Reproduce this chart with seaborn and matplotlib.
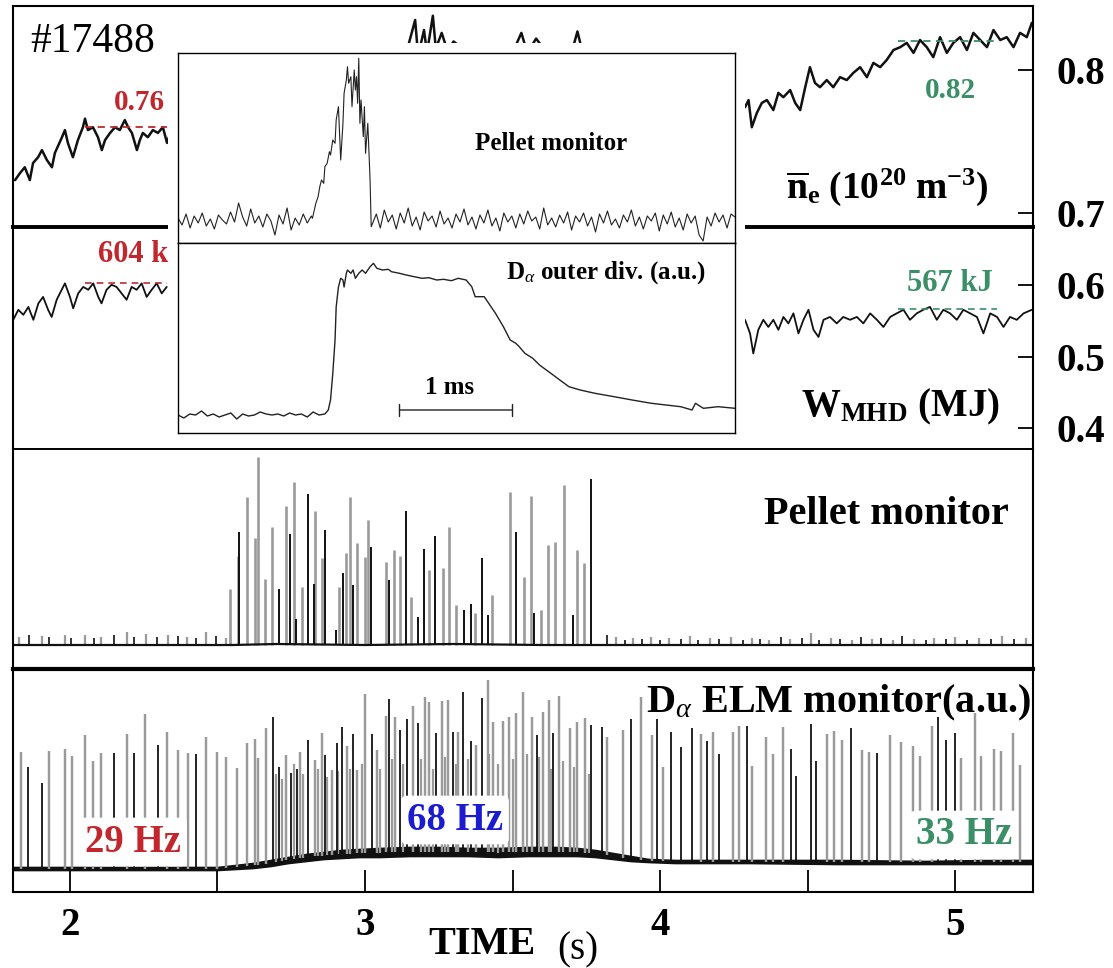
import matplotlib
matplotlib.use("Agg")
import matplotlib.pyplot as plt
from matplotlib.patches import Rectangle
import numpy as np
import pandas as pd
import seaborn as sns

W_PX, H_PX = 1113, 968

# --- line-averaged density (1e20 m^-3), visible parts + hidden middle ---
NE_T = [1.814, 1.831, 1.847, 1.864, 1.875, 1.892, 1.905, 1.922, 1.939, 1.949, 1.973, 1.983,
        1.993, 2.010, 2.027, 2.044, 2.051, 2.061, 2.078, 2.095, 2.108, 2.119, 2.136, 2.153,
        2.169, 2.186, 2.197, 2.210, 2.227, 2.237, 2.247, 2.264, 2.281, 2.298, 2.315, 2.329,
        2.35, 2.40, 2.45, 2.50, 2.55, 2.60, 2.65, 2.70, 2.75, 2.80, 2.85, 2.90, 2.95, 3.00,
        3.05, 3.10, 3.14, 3.17, 3.18, 3.20, 3.21, 3.23, 3.24, 3.26, 3.28, 3.30, 3.35, 3.40,
        3.45, 3.50, 3.53, 3.55, 3.58, 3.62, 3.66, 3.70, 3.72, 3.74, 3.80, 3.90, 4.00, 4.10,
        4.20, 4.288, 4.300, 4.311, 4.328, 4.345, 4.362, 4.384, 4.401, 4.418, 4.441, 4.458,
        4.475, 4.492, 4.508, 4.525, 4.542, 4.565, 4.587, 4.610, 4.633, 4.655, 4.678, 4.701,
        4.723, 4.746, 4.768, 4.791, 4.814, 4.836, 4.859, 4.881, 4.904, 4.926, 4.949, 4.972,
        4.994, 5.017, 5.040, 5.062, 5.085, 5.108, 5.130, 5.153, 5.175, 5.198, 5.220, 5.243,
        5.260]
NE_V = [0.723, 0.728, 0.732, 0.723, 0.735, 0.739, 0.744, 0.737, 0.732, 0.742, 0.753, 0.758,
        0.749, 0.739, 0.751, 0.760, 0.766, 0.758, 0.760, 0.753, 0.744, 0.751, 0.756, 0.760,
        0.758, 0.765, 0.760, 0.756, 0.744, 0.751, 0.756, 0.753, 0.758, 0.756, 0.760, 0.749,
        0.762, 0.758, 0.766, 0.770, 0.768, 0.776, 0.780, 0.785, 0.790, 0.792, 0.795, 0.798,
        0.800, 0.803, 0.805, 0.808, 0.812, 0.835, 0.810, 0.828, 0.812, 0.838, 0.815, 0.826,
        0.813, 0.820, 0.812, 0.810, 0.815, 0.812, 0.826, 0.812, 0.822, 0.811, 0.815, 0.812,
        0.827, 0.810, 0.800, 0.790, 0.785, 0.780, 0.776, 0.774, 0.779, 0.760, 0.770, 0.777,
        0.779, 0.772, 0.784, 0.781, 0.786, 0.777, 0.772, 0.788, 0.802, 0.791, 0.788, 0.793,
        0.788, 0.795, 0.793, 0.798, 0.802, 0.795, 0.805, 0.802, 0.807, 0.814, 0.816, 0.819,
        0.812, 0.821, 0.816, 0.809, 0.823, 0.812, 0.819, 0.823, 0.814, 0.826, 0.821, 0.816,
        0.828, 0.821, 0.823, 0.816, 0.826, 0.823, 0.833]

# --- stored energy (MJ), left and right visible segments ---
W_LEFT_T = [1.808, 1.825, 1.842, 1.859, 1.876, 1.893, 1.909, 1.926, 1.938, 1.955, 1.972,
            1.983, 2.000, 2.011, 2.028, 2.045, 2.062, 2.079, 2.096, 2.107, 2.124, 2.141,
            2.158, 2.175, 2.192, 2.209, 2.226, 2.243, 2.260, 2.277, 2.294, 2.311, 2.328]
W_LEFT_V = [0.552, 0.566, 0.559, 0.570, 0.552, 0.575, 0.584, 0.566, 0.556, 0.580, 0.594,
            0.603, 0.584, 0.568, 0.589, 0.598, 0.594, 0.603, 0.584, 0.575, 0.594, 0.601,
            0.598, 0.589, 0.580, 0.598, 0.594, 0.603, 0.584, 0.594, 0.603, 0.589, 0.598]
W_RIGHT_T = [4.288, 4.305, 4.316, 4.333, 4.350, 4.367, 4.384, 4.401, 4.418, 4.435, 4.452,
             4.469, 4.486, 4.503, 4.520, 4.537, 4.554, 4.576, 4.599, 4.621, 4.644, 4.667,
             4.689, 4.712, 4.735, 4.757, 4.780, 4.802, 4.825, 4.847, 4.870, 4.892, 4.915,
             4.938, 4.960, 4.983, 5.006, 5.028, 5.051, 5.074, 5.096, 5.119, 5.142, 5.164,
             5.186, 5.209, 5.232, 5.260]
W_RIGHT_V = [0.552, 0.533, 0.505, 0.538, 0.552, 0.542, 0.552, 0.538, 0.556, 0.547, 0.561,
             0.533, 0.552, 0.566, 0.538, 0.528, 0.552, 0.556, 0.547, 0.556, 0.552, 0.556,
             0.547, 0.561, 0.552, 0.542, 0.556, 0.561, 0.566, 0.552, 0.561, 0.566, 0.570,
             0.552, 0.566, 0.561, 0.552, 0.566, 0.561, 0.556, 0.533, 0.561, 0.556, 0.542,
             0.556, 0.552, 0.561, 0.566]

# reference levels (before / after pellets)
NE_LEVELS = [0.76, 0.82]
W_LEVELS = [0.604, 0.567]
LEVEL_SPANS = [(2.051, 2.33), (4.807, 5.142)]

# --- pellet monitor spikes (a.u.) ---
PELLET_T = [2.541, 2.568, 2.574, 2.600, 2.628, 2.637, 2.661, 2.686, 2.709, 2.731, 2.746,
            2.758, 2.767, 2.786, 2.806, 2.828, 2.831, 2.855, 2.864, 2.901, 2.913, 2.925,
            2.937, 2.948, 2.961, 2.973, 3.000, 3.010, 3.022, 3.070, 3.082, 3.097, 3.119,
            3.140, 3.155, 3.179, 3.201, 3.216, 3.237, 3.264, 3.286, 3.310, 3.334, 3.358,
            3.373, 3.395, 3.417, 3.431, 3.492, 3.513, 3.538, 3.562, 3.573, 3.597, 3.621,
            3.645, 3.676, 3.706, 3.718, 3.743, 3.767]
PELLET_V = [0.56, 0.89, 1.13, 1.48, 1.07, 1.88, 0.66, 1.18, 0.56, 1.39, 1.11,
            1.63, 0.26, 0.58, 1.51, 0.61, 1.34, 0.87, 1.15, 0.15, 0.58, 0.72,
            0.92, 1.48, 0.60, 1.02, 0.88, 1.25, 0.98, 0.83, 0.65, 0.95, 0.89,
            1.34, 0.48, 0.28, 0.96, 0.75, 1.09, 0.77, 1.18, 0.40, 0.35, 0.41,
            0.32, 0.87, 0.30, 0.50, 1.53, 1.13, 0.68, 1.49, 0.32, 0.35, 1.00,
            1.03, 1.60, 0.30, 0.95, 0.82, 1.66]
PELLET_KIND = list("ggkgggggkgk" "gkgkkggkkgk" "ggkgggkgkgg" "kgkkgkgggkk" "gkkggkggkgg"
                   "ggkggk")
PELLET_SMALL_T = [1.829, 1.860, 1.905, 1.930, 1.983, 2.002, 2.051, 2.080, 2.104, 2.150, 2.192,
                  2.217, 2.257, 2.295, 2.332, 2.366, 2.398, 2.426, 2.462, 2.496, 2.528,
                  3.82, 3.85, 3.88, 3.91, 3.94, 3.97, 4.00, 4.03, 4.07, 4.10, 4.13, 4.17,
                  4.20, 4.24, 4.28, 4.31, 4.34, 4.37, 4.41, 4.44, 4.48, 4.51, 4.54, 4.58,
                  4.61, 4.65, 4.68, 4.72, 4.75, 4.79, 4.82, 4.86, 4.90, 4.93, 4.97, 5.00,
                  5.04, 5.08, 5.12, 5.16, 5.20, 5.24]
PELLET_SMALL_V = [0.08, 0.10, 0.09, 0.08, 0.10, 0.07, 0.10, 0.07, 0.08, 0.10, 0.13,
                  0.08, 0.11, 0.08, 0.10, 0.09, 0.08, 0.07, 0.13, 0.09, 0.07,
                  0.10, 0.08, 0.05, 0.07, 0.06, 0.08, 0.05, 0.07, 0.06, 0.09, 0.05, 0.07,
                  0.06, 0.08, 0.05, 0.07, 0.06, 0.05, 0.08, 0.06, 0.07, 0.12, 0.05, 0.07,
                  0.06, 0.05, 0.08, 0.06, 0.07, 0.05, 0.09, 0.06, 0.05, 0.07, 0.06, 0.08,
                  0.05, 0.07, 0.06, 0.09, 0.06, 0.07]
PELLET_BASE_T = [1.807, 2.55, 2.70, 3.00, 3.30, 3.60, 3.78, 5.264]
PELLET_BASE_V = [0.0, 0.0, 0.01, 0.0, 0.01, 0.0, 0.0, 0.0]

# --- D-alpha ELM monitor (a.u.) ---
ELM_T = [1.833, 1.859, 1.904, 1.930, 1.983, 2.006, 2.051, 2.079, 2.104, 2.149, 2.192, 2.217,
         2.254, 2.299, 2.330, 2.365, 2.401, 2.426, 2.461, 2.499, 2.529, 2.567, 2.601, 2.627,
         2.638, 2.664, 2.687, 2.709, 2.732, 2.748, 2.768, 2.780, 2.806, 2.831, 2.853, 2.864,
         2.887, 2.904, 2.921, 2.938, 2.960, 2.974, 3.000, 3.023, 3.040, 3.071, 3.082, 3.102,
         3.119, 3.141, 3.164, 3.181, 3.203, 3.218, 3.241, 3.260, 3.282, 3.299, 3.316, 3.333,
         3.358, 3.376, 3.396, 3.418, 3.435, 3.469, 3.489, 3.512, 3.537, 3.565, 3.582, 3.602,
         3.625, 3.638, 3.659, 3.695, 3.718, 3.744, 3.765, 3.802, 3.819, 3.876, 3.901, 3.935,
         3.972, 3.991, 4.011, 4.036, 4.070, 4.107, 4.138, 4.160, 4.181, 4.200, 4.246, 4.269,
         4.296, 4.311, 4.359, 4.384, 4.418, 4.443, 4.461, 4.512, 4.528, 4.565, 4.590, 4.618,
         4.647, 4.684, 4.708, 4.735, 4.780, 4.817, 4.856, 4.881, 4.921, 4.943, 4.968, 4.998,
         5.019, 5.068, 5.088, 5.132, 5.155, 5.196, 5.220]
ELM_V = [1.17, 1.02, 0.86, 1.18, 1.20, 1.13, 1.34, 1.08, 1.16, 1.16, 1.35, 1.16,
         1.55, 1.24, 1.37, 1.19, 1.16, 1.15, 1.32, 1.17, 1.12, 1.01, 1.26, 1.30,
         1.11, 1.41, 1.52, 1.02, 1.14, 0.96, 1.00, 1.17, 1.29, 1.09, 1.36, 1.14,
         0.99, 1.26, 1.42, 1.23, 1.35, 0.99, 1.75, 1.35, 1.19, 1.53, 1.70, 1.52,
         1.39, 1.50, 1.63, 1.46, 1.72, 1.67, 1.36, 1.68, 1.69, 1.37, 1.37, 1.77,
         1.28, 1.24, 1.71, 1.89, 1.47, 1.48, 1.52, 1.56, 1.77, 1.52, 1.34, 1.57,
         1.69, 1.36, 1.73, 1.41, 1.47, 1.51, 1.44, 1.42, 1.32, 1.39, 1.50, 1.72,
         1.34, 1.50, 1.02, 1.37, 1.22, 1.41, 1.35, 1.28, 1.37, 1.15, 1.37, 1.43,
         1.43, 1.03, 1.32, 1.15, 1.42, 1.20, 0.93, 1.45, 1.08, 1.35, 1.38, 1.29,
         1.41, 1.19, 1.17, 1.16, 1.34, 1.27, 1.23, 1.13, 1.43, 1.52, 1.29, 1.36,
         1.11, 1.56, 1.13, 1.20, 1.18, 1.36, 1.04]
ELM_KIND = list("gkkggggggkgk" "gkgggkgggggg" "ggkkgkkgkggk" "gkkgkggkggkg" "kkgkggkggkgk"
                "kgkgggggggkg" "gkggggkkggkg" "gkgkkkgkgkgg" "kggggkkkkggg" "kggkgggggkkk"
                "ggggggg")
ELM_BG_T = [2.70, 2.72, 2.76, 2.79, 2.84, 2.87, 2.91, 2.95, 2.99, 3.05, 3.09, 3.13, 3.19,
            3.23, 3.27, 3.31, 3.35, 3.42, 3.45, 3.50, 3.55, 3.59, 3.63, 3.67, 3.71, 3.76]
ELM_BG_V = [0.95, 0.90, 1.05, 0.95, 1.00, 0.92, 0.98, 1.00, 1.05, 1.00, 1.10, 1.05, 1.10,
            1.00, 1.12, 1.05, 1.10, 1.15, 1.05, 1.10, 1.15, 1.12, 1.00, 1.08, 1.02, 0.95]
ELM_BASE_T = [1.807, 2.50, 2.56, 2.62, 2.68, 2.74, 2.80, 2.86, 2.92, 2.98, 3.05, 3.15, 3.25,
              3.35, 3.45, 3.55, 3.65, 3.72, 3.78, 3.84, 3.90, 3.96, 4.05, 4.30, 4.60, 4.90,
              5.10, 5.264]
ELM_BASE_LO = [-0.01, -0.01, 0.00, 0.01, 0.03, 0.06, 0.08, 0.10, 0.11, 0.12, 0.12, 0.13, 0.13,
               0.13, 0.12, 0.13, 0.13, 0.13, 0.12, 0.10, 0.08, 0.07, 0.06, 0.06, 0.05, 0.05,
               0.05, 0.05]
ELM_BASE_HI = [0.02, 0.02, 0.04, 0.06, 0.09, 0.12, 0.15, 0.17, 0.19, 0.20, 0.21, 0.22, 0.22,
               0.21, 0.21, 0.22, 0.22, 0.21, 0.19, 0.16, 0.13, 0.10, 0.09, 0.09, 0.09, 0.08,
               0.09, 0.09]

# --- inset (time in ms) ---
INS_PRE_NOISE = [2, -5, 6, -8, 4, -3, 7, -6, 1, -9, 5, 0, -4, 8, -2, 17, 3, -6, 11, -3,
                 4, -7, 6, -1, -15, 5, -4, 12, -10, 2, -5, 6, -3, 4]
INS_PEAK_T = [1.19, 1.22, 1.24, 1.255, 1.27, 1.29, 1.30, 1.32, 1.34, 1.35, 1.37, 1.39, 1.40,
              1.42, 1.43, 1.44, 1.46, 1.47, 1.49, 1.50, 1.51, 1.53, 1.54, 1.56, 1.57, 1.58,
              1.59, 1.60, 1.61, 1.62, 1.64, 1.65, 1.66, 1.68, 1.70, 1.71]
INS_PEAK_V = [1.7, 16.7, 23.3, 33.3, 40, 36.7, 53.3, 56.7, 68.3, 65, 80, 76.7, 100,
              113.3, 86.7, 60, 96.7, 126.7, 140, 153.3, 136.7, 143.3, 113.3, 150, 130, 143.3,
              116.7, 161.7, 96.7, 120, 83.3, 113.3, 66.7, 96.7, 40, -6.7]
INS_POST_NOISE = [-4, 6, -8, 10, -2, 5, -9, 7, -3, 12, -6, 3, -10, 8, -1, 4, -7, 9, -4, 2,
                  -8, 6, -2, 11, -5, 3, -9, 5, -3, 10, -6, 2, -11, 7, -2, 4, -8, 6, -4, 9,
                  -1, 3, -9, 12, -5, 2, -7, 5, -3, 8, -10, 4, -2, 7, -6, 3, -12, 6, -3, 9,
                  -5, 1, -8, 5, -2, 10, -6, 3, -9, 4, -1, 7, -11, 5, -4, 8, -7, 2, -10, 6,
                  -3, 4, -15, -21, 3, -6, 7, -2, 5, -8, 6, 3]
INS_DA_PRE = [0, -3, 1, 0, 4, -1, 1, -2, 0, 2, -4, 1, -1, 0, 3, 1, 0, 1, -1, 2, 0, 1, -2,
              3, 0, 1]
INS_DA_T = [1.33, 1.35, 1.37, 1.39, 1.40, 1.42, 1.44, 1.46, 1.47, 1.49, 1.50, 1.53, 1.55,
            1.57, 1.60, 1.63, 1.66, 1.70, 1.73, 1.76, 1.81, 1.86, 1.89, 1.96, 2.02, 2.09,
            2.16, 2.22, 2.29, 2.35, 2.42, 2.48, 2.55, 2.60, 2.63, 2.68, 2.71, 2.75, 2.81,
            2.88, 2.94, 2.99, 3.02, 3.07, 3.14, 3.20, 3.30, 3.40, 3.46, 3.56, 3.69, 3.86,
            4.02, 4.19, 4.32, 4.45, 4.55, 4.58, 4.65, 4.78, 4.93]
INS_DA_V = [5, 15, 41.7, 75, 108, 128, 136.7, 135, 128, 141.7, 145, 141.7, 145,
            136.7, 141.7, 145, 141.7, 148.3, 151.7, 146.7, 145, 145.7, 143.3, 141.7, 140, 138.3,
            136.7, 137.3, 135, 135.7, 134.3, 136.7, 135, 128.3, 118.3, 118.3, 118.3, 111.7, 101.7,
            88.3, 75, 71.7, 68.3, 61.7, 56.7, 50, 41.7, 33.3, 28.3, 25, 21.7, 18.3,
            15, 11.7, 10, 8.3, 5, 11.7, 6.7, 8.3, 6.7]
SCALE_BAR_MS = [1.96, 2.96]

GRAY = "#9a9a9a"
SPIKE_COLORS = {"g": GRAY, "k": "#111111"}
RED, GREEN, BLUE = "#c1272d", "#3b8f66", "#1c1ccf"
T_LIM = (1.807, 5.264)

sns.set_theme(style="white")
plt.rcParams["font.family"] = ["Liberation Serif", "DejaVu Serif"]
plt.rcParams["text.color"] = "black"
plt.rcParams["mathtext.fontset"] = "custom"
plt.rcParams["mathtext.rm"] = "Liberation Serif"
plt.rcParams["mathtext.it"] = "Liberation Serif:italic"
plt.rcParams["mathtext.bf"] = "Liberation Serif:bold"


def px_axes(fig, x0, y0, x1, y1, **kw):
    return fig.add_axes([x0 / W_PX, 1 - y1 / H_PX, (x1 - x0) / W_PX, (y1 - y0) / H_PX], **kw)


def style_panel(ax, top_lw, bottom_lw):
    ax.set_facecolor("none")
    for side in ("left", "right"):
        ax.spines[side].set_linewidth(1.5)
        ax.spines[side].set_color("black")
    ax.spines["top"].set_visible(top_lw > 0)
    ax.spines["top"].set_linewidth(top_lw)
    ax.spines["top"].set_color("black")
    ax.spines["bottom"].set_linewidth(bottom_lw)
    ax.spines["bottom"].set_color("black")
    ax.set_xlim(*T_LIM)
    ax.set_xticks([])
    ax.set_yticks([])
    ax.set_xlabel("")
    ax.set_ylabel("")


def draw_spikes(ax, t, peak, kinds, base, lw=1.3):
    t, peak, kinds = np.asarray(t), np.asarray(peak), np.asarray(kinds)
    base = np.broadcast_to(np.asarray(base, dtype=float), t.shape)
    for kind in ("g", "k"):
        m = kinds == kind
        ax.vlines(t[m], base[m], peak[m], colors=SPIKE_COLORS[kind],
                  lw=lw * (1.35 if kind == "g" else 1.0))


def right_ticks(ax, ticks):
    ax.yaxis.tick_right()
    ax.set_yticks(ticks)
    ax.set_yticklabels([f"{v:.1f}" for v in ticks], fontweight="bold")
    ax.tick_params(axis="y", direction="in", length=11, width=1.3, labelsize=28, pad=17,
                   colors="black")


def trace(ax, t, v, lw, color="#111111"):
    df = pd.DataFrame({"t": t, "v": v})
    sns.lineplot(data=df, x="t", y="v", ax=ax, color=color, lw=lw, estimator=None)


fig = plt.figure(figsize=(W_PX / 100, H_PX / 100), dpi=100)

# ---- density panel
ax_ne = px_axes(fig, 13, 6, 1033, 227)
trace(ax_ne, NE_T, NE_V, 1.8)
style_panel(ax_ne, 1.5, 2.8)
ax_ne.set_ylim(0.6902, 0.8448)
right_ticks(ax_ne, [0.7, 0.8])
for lvl, (t0, t1), col in zip(NE_LEVELS, LEVEL_SPANS, [RED, GREEN]):
    ax_ne.hlines(lvl, t0, t1, colors=col, lw=1.3, linestyles=(0, (4, 3)))
ax_ne.text(2.237, 0.7776, "0.76", color=RED, fontsize=21, fontweight="bold",
           ha="center", va="center")
ax_ne.text(4.983, 0.786, "0.82", color=GREEN, fontsize=21, fontweight="bold",
           ha="center", va="center")
ax_ne.text(1.864, 0.8196, "#17488", fontsize=30, ha="left", va="center")
ax_ne.text(4.77, 0.718, r"$\overline{\mathbf{n}}_{\mathbf{e}}\ \mathbf{(10^{20}\ m^{-3})}$",
           fontsize=27, ha="center", va="center")

# ---- stored energy panel
ax_w = px_axes(fig, 13, 227, 1033, 449)
trace(ax_w, W_LEFT_T, W_LEFT_V, 1.3)
trace(ax_w, W_RIGHT_T, W_RIGHT_V, 1.3)
style_panel(ax_w, 0, 1.4)
ax_w.set_ylim(0.3713, 0.6818)
right_ticks(ax_w, [0.4, 0.5, 0.6])
for lvl, (t0, t1), col in zip(W_LEVELS, LEVEL_SPANS, [RED, GREEN]):
    ax_w.hlines(lvl, t0, t1, colors=col, lw=1.2, linestyles=(0, (4, 3)))
ax_w.text(2.095, 0.643, "604 kJ", color=RED, fontsize=22, fontweight="bold",
          ha="left", va="center")
ax_w.text(4.983, 0.603, "567 kJ", color=GREEN, fontsize=22, fontweight="bold",
          ha="center", va="center")
ax_w.text(4.816, 0.430, r"$\mathbf{W_{MHD}}$ (MJ)", fontsize=28, fontweight="bold",
          ha="center", va="center")

# ---- pellet monitor panel
ax_p = px_axes(fig, 13, 449, 1033, 669)
small_kind = ["g", "k"] * (len(PELLET_SMALL_T) // 2) + ["g"] * (len(PELLET_SMALL_T) % 2)
draw_spikes(ax_p, PELLET_SMALL_T, PELLET_SMALL_V, small_kind, 0.0, 1.2)
draw_spikes(ax_p, PELLET_T, PELLET_V, PELLET_KIND, 0.0, 1.4)
trace(ax_p, PELLET_BASE_T, PELLET_BASE_V, 1.6)
style_panel(ax_p, 0, 3.0)
ax_p.set_ylim(-0.24, 1.96)
ax_p.text(4.766, 1.30, "Pellet monitor", fontsize=29, fontweight="bold",
          ha="center", va="center")

# ---- D-alpha ELM panel
ax_d = px_axes(fig, 13, 669, 1033, 892)
base_mid = (np.asarray(ELM_BASE_LO) + np.asarray(ELM_BASE_HI)) / 2
draw_spikes(ax_d, ELM_BG_T, ELM_BG_V, ["g"] * len(ELM_BG_T),
            np.interp(ELM_BG_T, ELM_BASE_T, base_mid), 1.2)
draw_spikes(ax_d, ELM_T, ELM_V, ELM_KIND,
            np.interp(ELM_T, ELM_BASE_T, base_mid), 1.3)
ax_d.fill_between(ELM_BASE_T, ELM_BASE_LO, ELM_BASE_HI, color="#111111", lw=1.2)
style_panel(ax_d, 0, 1.5)
ax_d.set_ylim(-0.23, 2.00)
ax_d.set_xticks([2, 2.5, 3, 3.5, 4, 4.5, 5])
ax_d.set_xticklabels(["2", "", "3", "", "4", "", "5"], fontweight="bold")
ax_d.tick_params(axis="x", direction="in", length=16, width=1.3, labelsize=28, pad=11,
                 colors="black", bottom=True)
ax_d.text(5.258, 1.66, r"D$_{\alpha}$ ELM monitor(a.u.)", fontsize=29, fontweight="bold",
          ha="right", va="center")
box = dict(boxstyle="round,pad=0.15", fc="white", ec="none")
ax_d.text(2.214, 0.27, "29 Hz", color=RED, fontsize=28, fontweight="bold",
          ha="center", va="center", bbox=box)
ax_d.text(3.305, 0.49, "68 Hz", color=BLUE, fontsize=28, fontweight="bold",
          ha="center", va="center", bbox=box)
ax_d.text(5.03, 0.34, "33 Hz", color=GREEN, fontsize=28, fontweight="bold",
          ha="center", va="center", bbox=box)

fig.text(482 / W_PX, 1 - 945 / H_PX, "TIME", fontsize=29, fontweight="bold",
         ha="center", va="center")
fig.text(578 / W_PX, 1 - 950 / H_PX, "(s)", fontsize=28, ha="center", va="center")

# ---- inset (zoom on one pellet)
fig.patches.append(Rectangle((168 / W_PX, 1 - 442 / H_PX), 577 / W_PX, 399 / H_PX,
                             transform=fig.transFigure, fc="white", ec="none", zorder=2))
ins_u = px_axes(fig, 178, 53, 735, 243, zorder=3)
ins_l = px_axes(fig, 178, 243, 735, 433, zorder=3)

pre_t = np.linspace(0.0, 1.18, len(INS_PRE_NOISE))
post_t = np.linspace(1.72, 4.93, len(INS_POST_NOISE))
pel_t = np.concatenate([pre_t, INS_PEAK_T, post_t])
pel_v = np.concatenate([INS_PRE_NOISE, INS_PEAK_V, INS_POST_NOISE])
ins_u.plot(pel_t, pel_v, color="#222222", lw=0.8)
da_pre_t = np.linspace(0.0, 1.30, len(INS_DA_PRE))
ins_l.plot(np.concatenate([da_pre_t, INS_DA_T]), np.concatenate([INS_DA_PRE, INS_DA_V]),
           color="#222222", lw=1.0)
ins_l.annotate("", xy=(SCALE_BAR_MS[0], 5), xytext=(SCALE_BAR_MS[1], 5),
               arrowprops=dict(arrowstyle="|-|", lw=1.0, color="#222222",
                               mutation_scale=4, shrinkA=0, shrinkB=0))
for ax, ylim in ((ins_u, (-23, 167)), (ins_l, (-18, 172))):
    ax.set_facecolor("white")
    ax.set_xlim(0, 4.93)
    ax.set_ylim(*ylim)
    ax.set_xticks([])
    ax.set_yticks([])
    for s in ax.spines.values():
        s.set_visible(True)
        s.set_linewidth(1.0)
        s.set_color("black")
ins_u.text(3.30, 77, "Pellet monitor", fontsize=18, fontweight="bold",
           ha="center", va="center")
ins_l.text(3.79, 142, r"D$_{\alpha}$ outer div. (a.u.)", fontsize=18, fontweight="bold",
           ha="center", va="center")
ins_l.text(2.40, 27, "1 ms", fontsize=18, fontweight="bold", ha="center", va="center")

fig.savefig("out.png", dpi=100)
